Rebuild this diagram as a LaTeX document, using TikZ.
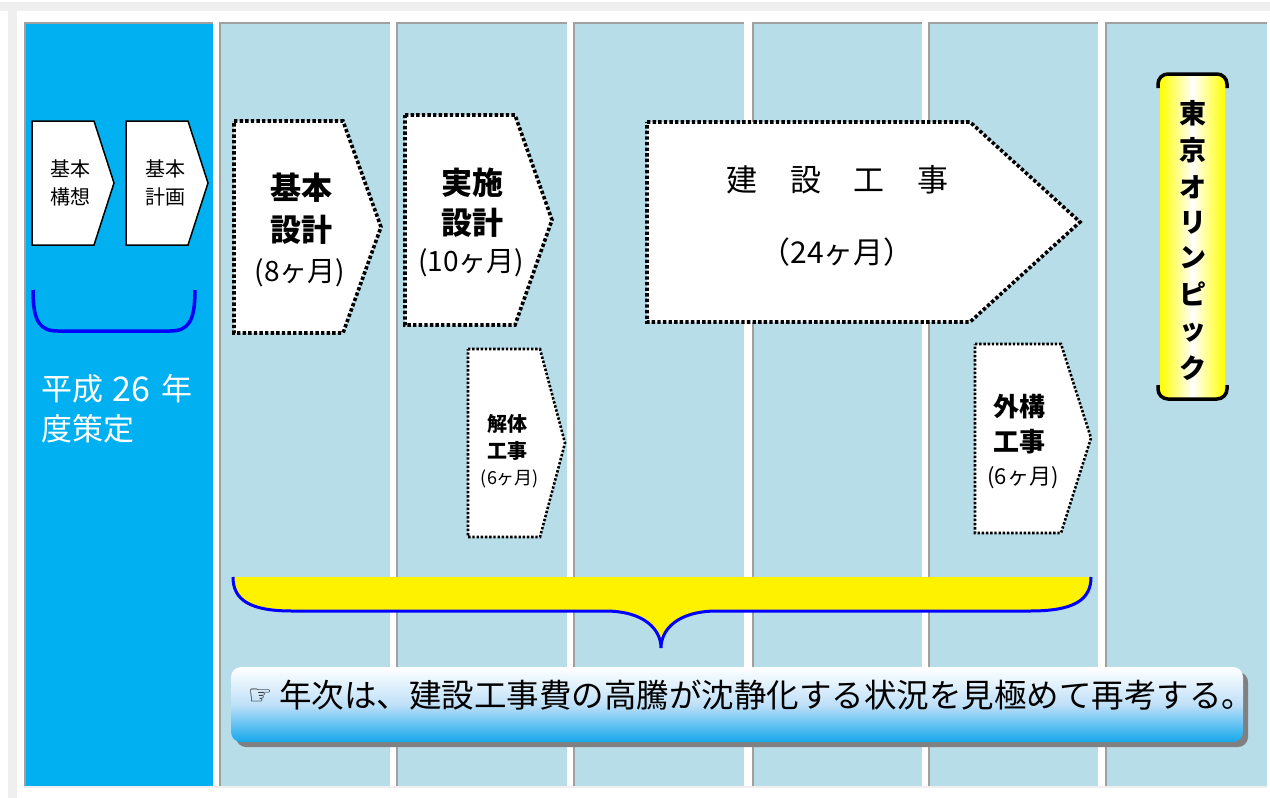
\documentclass[tikz,border=0pt]{standalone}
\usepackage{fontspec}
\newfontfamily\jp{Noto Sans CJK JP}
\newfontfamily\dv{DejaVu Sans}
\definecolor{bgray}{HTML}{EFEFEF}
\definecolor{colblue}{HTML}{00B0F0}
\definecolor{collight}{HTML}{B7DDE8}
\definecolor{colborder}{HTML}{A0A0A0}
\definecolor{brblue}{HTML}{0000FF}
\definecolor{notemid}{HTML}{BFE0F8}
\definecolor{notebot}{HTML}{14A8EC}
\definecolor{shadowgray}{HTML}{808080}
\tikzset{
  solidarrow/.style={draw=black, line width=1.5pt, fill=white},
  bigdot/.style={draw=black, line width=3.6pt, fill=white, dash pattern=on 3.4pt off 2.2pt},
  smalldot/.style={draw=black, line width=2.6pt, fill=white, dash pattern=on 2.4pt off 1.8pt},
  txt/.style={inner sep=0pt, font=\jp, text=black},
  bold/.style={inner sep=0pt, font=\jp\bfseries, text=black},
}
\begin{document}
\begin{tikzpicture}[x=1pt,y=-1pt]
\useasboundingbox (0,0) rectangle (1270,798);
\fill[white] (0,0) rectangle (1270,798);
\fill[bgray] (0,2) rectangle (1270,11);
\fill[bgray] (8,2) rectangle (17,798);
\fill[bgray] (24,786) rectangle (1267,788);
% columns
\foreach \l/\r/\c in {24/213/colblue, 219/390/collight, 396/567/collight, 573/744/collight, 752/922/collight, 928/1098/collight, 1105/1267/collight}{
  \fill[\c] (\l,23) rectangle (\r,786);
  \draw[colborder, line width=2pt] (\l+1,786) -- (\l+1,23) -- (\r,23);
}
% column 1 arrows
\draw[solidarrow] (32,121) -- (94,121) -- (114,183) -- (94,245) -- (32,245) -- cycle;
\draw[solidarrow] (126,121) -- (188,121) -- (208,183) -- (188,245) -- (126,245) -- cycle;
\node[txt, font=\jp\fontsize{20}{28}\selectfont, align=center] (kousou) at (70,183) {基本\\構想};
\node[txt, font=\jp\fontsize{20}{28}\selectfont, align=center] (keikaku) at (165,183) {基本\\計画};
\draw[brblue, line width=3.5pt] (33,290) .. controls (33,322) and (40,331) .. (58,331) -- (170,331) .. controls (188,331) and (195,322) .. (195,290);
\node[txt, text=white, anchor=west, font=\jp\fontsize{31}{31}\selectfont] (hs1) at (41,389) {平成};
\node[txt, text=white, font=\jp\fontsize{34}{34}\selectfont] (hs2) at (131,389) {26};
\node[txt, text=white, font=\jp\fontsize{31}{31}\selectfont] (hs3) at (177,389) {年};
\node[txt, text=white, anchor=west, font=\jp\fontsize{31}{31}\selectfont] (hs4) at (41,429) {度策定};
% 基本設計
\draw[bigdot] (234,121) -- (343,121) -- (381,227) -- (343,333) -- (234,333) -- cycle;
\node[bold, font=\jp\bfseries\fontsize{31}{31}\selectfont] (kk1) at (301,188) {基本};
\node[bold, font=\jp\bfseries\fontsize{31}{31}\selectfont] (kk2) at (301,230) {設計};
\node[txt, font=\jp\fontsize{28}{28}\selectfont] (kk3) at (300,273) {(8ヶ月)};
% 実施設計
\draw[bigdot] (405,115) -- (515,115) -- (552,220) -- (515,325) -- (405,325) -- cycle;
\node[bold, font=\jp\bfseries\fontsize{31}{31}\selectfont] (js1) at (472,183) {実施};
\node[bold, font=\jp\bfseries\fontsize{31}{31}\selectfont] (js2) at (472,223) {設計};
\node[txt, font=\jp\fontsize{28}{28}\selectfont] (js3) at (471,263) {(10ヶ月)};
% 建設工事
\draw[bigdot] (647,122) -- (970,122) -- (1080,222) -- (970,322) -- (647,322) -- cycle;
\foreach \ch/\xx/\nm in {建/742/k1, 設/806/k2, 工/869/k3, 事/933/k4}{
  \node[txt, font=\jp\fontsize{31}{31}\selectfont] (\nm) at (\xx,180) {\ch};
}
\node[txt, font=\jp\fontsize{30}{30}\selectfont] (k5) at (837,252) {（24ヶ月）};
% 解体工事
\draw[smalldot] (468,349) -- (540,349) -- (565,443) -- (540,537) -- (468,537) -- cycle;
\node[bold, font=\jp\bfseries\fontsize{20}{20}\selectfont] (kt1) at (507,424) {解体};
\node[bold, font=\jp\bfseries\fontsize{20}{20}\selectfont] (kt2) at (507,451) {工事};
\node[txt, font=\jp\fontsize{18}{18}\selectfont] (kt3) at (510,479) {(6ヶ月)};
% 外構工事
\draw[smalldot] (975,344) -- (1061,344) -- (1091,438) -- (1061,533) -- (975,533) -- cycle;
\node[bold, font=\jp\bfseries\fontsize{26}{26}\selectfont] (gk1) at (1019,407) {外構};
\node[bold, font=\jp\bfseries\fontsize{26}{26}\selectfont] (gk2) at (1019,442) {工事};
\node[txt, font=\jp\fontsize{22}{22}\selectfont] (gk3) at (1023,478) {(6ヶ月)};
% Olympic
\shade[left color=yellow, right color=yellow, middle color=white] (1160,76) rectangle (1225,397);
\draw[black, line width=3.5pt, rounded corners=10pt] (1158,88) -- (1158,74) -- (1227,74) -- (1227,88);
\draw[black, line width=3.5pt, rounded corners=10pt] (1158,385) -- (1158,399) -- (1227,399) -- (1227,385);
\foreach \ch/\yy/\nm in {東/113/o1, 京/150/o2, オ/187/o3, リ/223/o4, ン/258/o5, ピ/294/o6, ッ/333/o7, ク/368/o8}{
  \node[bold, font=\jp\bfseries\fontsize{27}{27}\selectfont] (\nm) at (1193,\yy) {\ch};
}
% brace
\fill[yellow] (233,577) .. controls (233,600) and (250,611) .. (292,611) -- (605,611) .. controls (645,611) and (661,630) .. (661,648) .. controls (661,630) and (677,611) .. (717,611) -- (1030,611) .. controls (1074,611) and (1091,600) .. (1091,577) -- cycle;
\draw[brblue, line width=3pt] (233,577) .. controls (233,600) and (250,611) .. (292,611) -- (605,611) .. controls (645,611) and (661,630) .. (661,648) .. controls (661,630) and (677,611) .. (717,611) -- (1030,611) .. controls (1074,611) and (1091,600) .. (1091,577);
% note
\fill[shadowgray, rounded corners=10pt] (236,672) rectangle (1248,747);
\shade[top color=white, bottom color=notebot, middle color=notemid, rounded corners=10pt] (231,667) rectangle (1243,742);
\node[txt, anchor=west, font=\dv\fontsize{27}{27}\selectfont] (hand) at (248,697) {☞};
\node[txt, anchor=west, font=\jp\fontsize{32.5}{32.5}\selectfont] (note) at (279,695) {年次は、建設工事費の高騰が沈静化する状況を見極めて再考する。};
\end{tikzpicture}
\end{document}
